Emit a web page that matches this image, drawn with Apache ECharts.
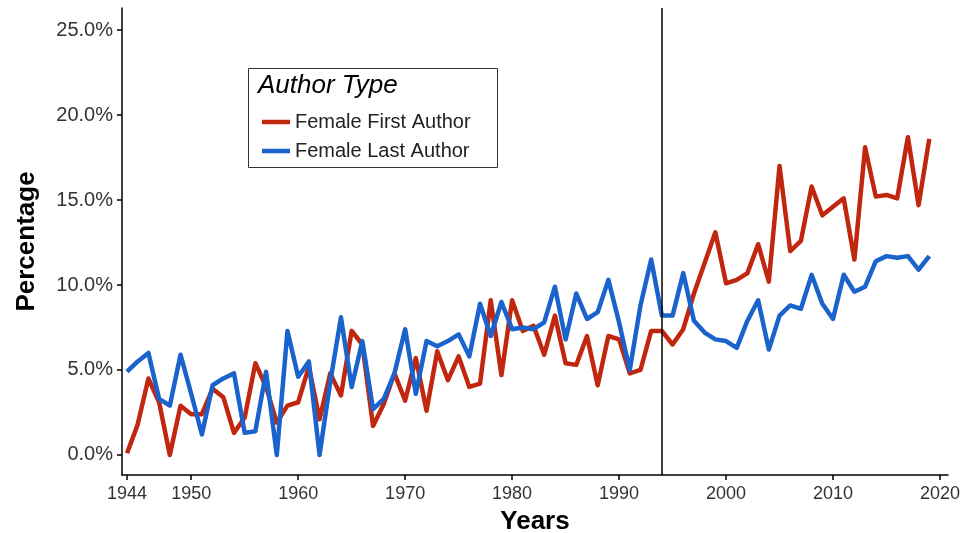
<!DOCTYPE html>
<html>
<head>
<meta charset="utf-8">
<script src="https://cdn.jsdelivr.net/npm/echarts@6/dist/echarts.min.js"></script>
<style>html,body{margin:0;padding:0;background:#fff;}#c{width:968px;height:533px;}</style>
</head>
<body>
<div id="c"></div>
<script>
var years = [];
for (var yr = 1944; yr <= 2019; yr++) years.push(yr);
var femaleFirst = [0.1,1.8,4.5,3.1,0.0,2.9,2.4,2.4,3.9,3.4,1.3,2.2,5.4,4.0,1.9,2.9,3.1,5.2,2.1,4.8,3.5,7.3,6.5,1.7,3.0,4.8,3.2,5.7,2.6,6.1,4.4,5.8,4.0,4.2,9.1,4.7,9.1,7.3,7.6,5.9,8.2,5.4,5.3,7.0,4.1,7.0,6.8,4.8,5.0,7.3,7.3,6.5,7.4,9.5,11.3,13.1,10.1,10.3,10.7,12.4,10.2,17.0,12.0,12.6,15.8,14.1,14.6,15.1,11.5,18.1,15.2,15.3,15.1,18.7,14.7,18.6];
var femaleLast = [4.9,5.5,6.0,3.3,2.9,5.9,3.6,1.2,4.1,4.5,4.8,1.3,1.4,4.9,0.0,7.3,4.6,5.5,0.0,4.3,8.1,4.0,6.7,2.7,3.3,4.8,7.4,3.6,6.7,6.4,6.7,7.1,5.8,8.9,7.0,9.0,7.4,7.5,7.4,7.8,9.9,6.8,9.5,8.0,8.4,10.3,7.8,5.0,8.8,11.5,8.2,8.2,10.7,7.9,7.2,6.8,6.7,6.3,7.9,9.1,6.2,8.2,8.8,8.6,10.6,8.9,8.0,10.6,9.6,9.9,11.4,11.7,11.6,11.7,10.9,11.7];
var xTicks = [1944,1950,1960,1970,1980,1990,2000,2010,2020];
var yTicks = [0,5,10,15,20,25];
var markYear = 1994;
var seriesNames = ['Female First Author','Female Last Author'];

var chart = echarts.init(document.getElementById('c'));
var font = 'Liberation Sans, Arial, sans-serif';
chart.setOption({
  animation: false,
  backgroundColor: '#fff',
  grid: {left: 122, right: 20, top: 8, bottom: 58, containLabel: false, outerBoundsMode: 'none'},
  xAxis: {
    type: 'value', min: 1943.53, max: 2020.75,
    name: 'Years', nameLocation: 'middle', nameGap: 34,
    nameTextStyle: {fontFamily: font, fontSize: 26, fontWeight: 'bold', color: '#000'},
    axisLine: {show: true, onZero: false, lineStyle: {color: '#000', width: 1.5}},
    axisTick: {show: true, length: 5, customValues: xTicks, lineStyle: {color: '#000', width: 1.5}},
    axisLabel: {customValues: xTicks, fontFamily: font, fontSize: 18, color: '#333', margin: 10,
      formatter: function(v){return String(v);}},
    splitLine: {show: false}
  },
  yAxis: {
    type: 'value', min: -1.18, max: 26.3,
    name: 'Percentage', nameLocation: 'middle', nameGap: 82, nameRotate: 90,
    nameTextStyle: {fontFamily: font, fontSize: 26, fontWeight: 'bold', color: '#000'},
    axisLine: {show: true, onZero: false, lineStyle: {color: '#000', width: 1.5}},
    axisTick: {show: true, length: 5, customValues: yTicks, lineStyle: {color: '#000', width: 1.5}},
    axisLabel: {customValues: yTicks, fontFamily: font, fontSize: 20, color: '#333', margin: 9,
      formatter: function(v){return v.toFixed(1) + '%';}},
    splitLine: {show: false}
  },
  legend: {
    data: seriesNames, orient: 'vertical', left: 262, top: 111, z: 10, padding: 0,
    icon: 'rect', itemWidth: 28, itemHeight: 4.5, itemGap: 7,
    textStyle: {fontFamily: font, fontSize: 20, color: '#222', lineHeight: 22}
  },
  graphic: [
    {type: 'rect', z: 1, shape: {x: 248.5, y: 68.5, width: 249, height: 99},
     style: {fill: '#fff', stroke: '#333', lineWidth: 1}},
    {type: 'text', z: 2, x: 258, y: 73,
     style: {text: 'Author Type', fontFamily: font, fontSize: 26, fontStyle: 'italic', fill: '#000'}}
  ],
  series: [
    {name: seriesNames[0], type: 'line', showSymbol: false, symbol: 'none',
     data: years.map(function(y,i){return [y, femaleFirst[i]];}),
     lineStyle: {color: '#C1270E', width: 4.5, join: 'round'}, itemStyle: {color: '#C1270E'},
     markLine: {silent: true, symbol: 'none', label: {show: false},
       lineStyle: {color: '#000', width: 1.5, type: 'solid'},
       data: [{xAxis: markYear}]}},
    {name: seriesNames[1], type: 'line', showSymbol: false, symbol: 'none',
     data: years.map(function(y,i){return [y, femaleLast[i]];}),
     lineStyle: {color: '#1A62CC', width: 4.5, join: 'round'}, itemStyle: {color: '#1A62CC'}}
  ]
});
</script>
</body>
</html>
